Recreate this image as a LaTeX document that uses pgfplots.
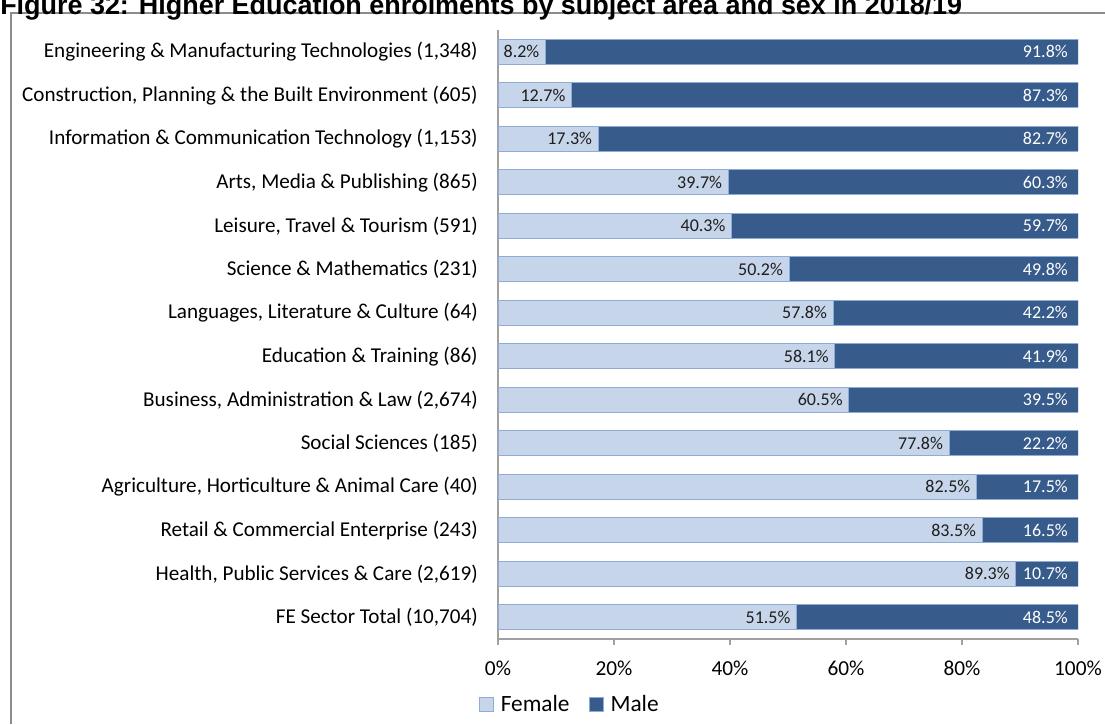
\documentclass[border=0pt]{standalone}
\usepackage{fontspec}
\setmainfont{Carlito}
\newfontfamily\titlefont{Liberation Sans}
\usepackage{pgfplots}
\usepackage{pgfplotstable}
\pgfplotsset{compat=1.18}

\definecolor{femfill}{RGB}{198,213,233}
\definecolor{femedge}{RGB}{143,172,214}
\definecolor{malefill}{RGB}{55,91,139}
\definecolor{axisgray}{RGB}{160,160,160}
\definecolor{framegray}{RGB}{140,140,140}
\definecolor{labeltext}{RGB}{30,30,30}

% y = position from bottom, female %, male %, end of bar
\pgfplotstableread{
y  female male end
13 8.2  91.8 100
12 12.7 87.3 100
11 17.3 82.7 100
10 39.7 60.3 100
9  40.3 59.7 100
8  50.2 49.8 100
7  57.8 42.2 100
6  58.1 41.9 100
5  60.5 39.5 100
4  77.8 22.2 100
3  82.5 17.5 100
2  83.5 16.5 100
1  89.3 10.7 100
0  51.5 48.5 100
}\enrol

\pgfplotsset{chartbox/.style={
    at={(373.5pt,63.75pt)}, anchor=south west,
    scale only axis,
    width=435pt, height=456.75pt,
    xmin=0, xmax=100,
    ymin=-0.5, ymax=13.5,
    /pgf/number format/assume math mode=true}}

\begin{document}
\begin{tikzpicture}
\begin{axis}[
    chartbox,
    xbar stacked,
    bar width=18.75pt,
    xtick={0,20,...,100},
    xticklabel={\pgfmathprintnumber{\tick}\%},
    ytick={0,...,13},
    yticklabels={
      {FE Sector Total (10,704)},
      {Health, Public Services \& Care (2,619)},
      {Retail \& Commercial Enterprise (243)},
      {Agriculture, Horticulture \& Animal Care (40)},
      {Social Sciences (185)},
      {Business, Administration \& Law (2,674)},
      {Education \& Training (86)},
      {Languages, Literature \& Culture (64)},
      {Science \& Mathematics (231)},
      {Leisure, Travel \& Tourism (591)},
      {Arts, Media \& Publishing (865)},
      {Information \& Communication Technology (1,153)},
      {Construction, Planning \& the Built Environment (605)},
      {Engineering \& Manufacturing Technologies (1,348)}},
    axis x line*=bottom,
    axis y line*=left,
    axis line style={axisgray, line width=0.9pt},
    tick align=outside,
    major tick length=4.5pt,
    xtick style={axisgray, line width=0.9pt},
    ytick style={draw=none},
    xticklabel style={font=\fontsize{16}{19}\selectfont, anchor=north, inner sep=0pt, yshift=-12pt},
    yticklabel style={font=\fontsize{15.85}{19}\selectfont, anchor=east, inner sep=0pt, xshift=-10.5pt},
    legend style={at={(0.128,-0.108)}, anchor=center, draw=none, fill=none,
      legend columns=2, font=\fontsize{17.5}{20}\selectfont,
      nodes={inner xsep=5.25pt, inner ysep=0pt},
      /tikz/every even column/.append style={column sep=9pt}},
    legend image code/.code={\draw[#1] (0pt,-5.25pt) rectangle (10.5pt,5.25pt);},
]
\addplot+[fill=femfill, draw=femedge, line width=0.75pt]
    table[x=female, y=y] {\enrol};
\addplot+[fill=malefill, draw=femedge, line width=0.75pt]
    table[x=male, y=y] {\enrol};
\legend{Female, Male}
\end{axis}
% value labels, right-aligned at the end of each segment
\begin{axis}[
    chartbox,
    hide axis,
    nodes near coords={\pgfmathprintnumber[fixed,fixed zerofill,precision=1]{\pgfplotspointmeta}\%},
    every node near coord/.append style={font=\fontsize{13.5}{16}\selectfont, anchor=east, inner sep=0pt},
]
\addplot[only marks, mark=none, point meta=\thisrow{female},
    every node near coord/.append style={text=labeltext, xshift=-4.5pt}]
    table[x=female, y=y] {\enrol};
\addplot[only marks, mark=none, point meta=\thisrow{male},
    every node near coord/.append style={text=white, xshift=-7.5pt}]
    table[x=end, y=y] {\enrol};
\end{axis}
% chart frame (cropped on right and bottom)
\draw[framegray, line width=0.9pt] (8.25pt,0pt) -- (8.25pt,533.25pt) -- (828.75pt,533.25pt);
% title, partly cut off at top
\node[anchor=base west, inner sep=0pt, font=\titlefont\bfseries\fontsize{20.2}{24}\selectfont]
  at (0pt,531.75pt) {Figure 32: Higher Education enrolments by subject area and sex in 2018/19};
\pgfresetboundingbox
\useasboundingbox (0pt,0pt) rectangle (828.75pt,543pt);
\end{tikzpicture}
\end{document}
